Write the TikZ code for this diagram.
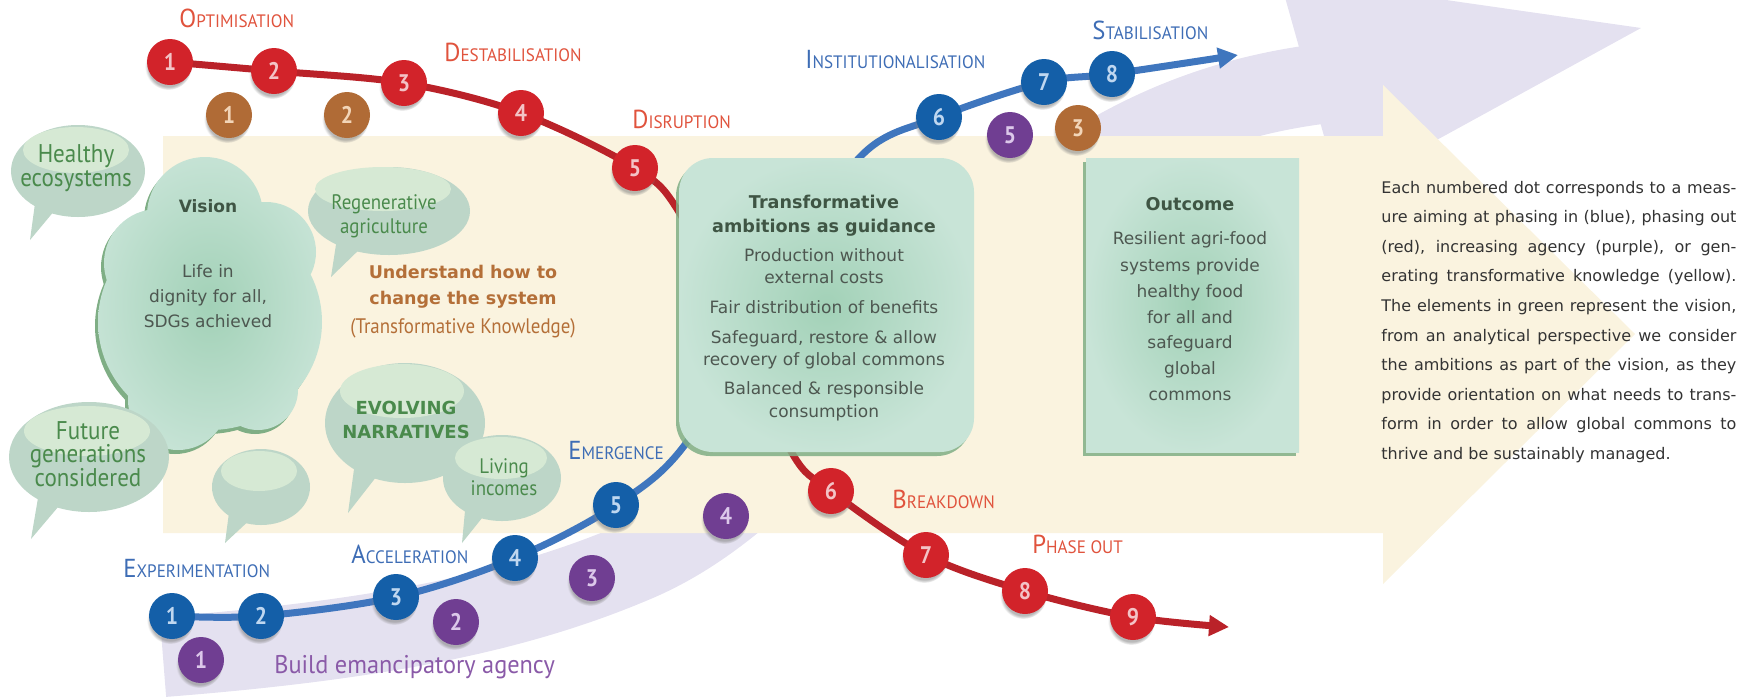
\documentclass[tikz,border=0pt]{standalone}
\usepackage{fontspec}
\setmainfont{DejaVu Sans}
\newfontfamily\cond[FakeStretch=0.9]{PT Sans}
\newfontfamily\condl[FakeStretch=0.95]{PT Sans}
\usetikzlibrary{shadows,arrows.meta}
\pgfdeclarelayer{lavl}
\pgfdeclarelayer{yell}
\pgfdeclarelayer{curvel}
\pgfsetlayers{lavl,yell,curvel,main}

\definecolor{lav}{HTML}{E4E1F0}
\definecolor{yel}{HTML}{FAF3DF}
\definecolor{dotred}{HTML}{D2232A}
\definecolor{curvered}{HTML}{BA2229}
\definecolor{dotblue}{HTML}{145FA8}
\definecolor{curveblue}{HTML}{3F76BE}
\definecolor{dotpurple}{HTML}{703E92}
\definecolor{dotorange}{HTML}{B06B36}
\definecolor{numred}{HTML}{F3C3C6}
\definecolor{numblue}{HTML}{BFD7F0}
\definecolor{numpurple}{HTML}{DCC8EA}
\definecolor{numorange}{HTML}{F2D5B8}
\definecolor{labred}{HTML}{E0533D}
\definecolor{labblue}{HTML}{3E6DB5}
\definecolor{labpurple}{HTML}{8A5AA8}
\definecolor{bub}{HTML}{BDD6C8}
\definecolor{bubhi}{HTML}{D6E9D4}
\definecolor{bubtext}{HTML}{4A8A4C}
\definecolor{boxin}{HTML}{A2D1B7}
\definecolor{boxout}{HTML}{C8E4D7}
\definecolor{boxsh}{HTML}{7FAE85}
\definecolor{ktext}{HTML}{B46F38}
\definecolor{gtext}{HTML}{4D5750}
\definecolor{gtitle}{HTML}{3F5544}
\definecolor{ptext}{HTML}{333333}

\newcommand{\slab}[2]{{\fontsize{13}{13}\selectfont #1}{\fontsize{9}{9}\selectfont #2}}
\def\cloudpath{(205,215) circle [radius=58] (158,263) circle [radius=54] (266,252) circle [radius=50] (210,322) ellipse [x radius=112, y radius=108] (178,400) circle [radius=50] (258,390) circle [radius=40]}

\tikzset{
 dot/.style={circle, minimum size=23pt, inner sep=0pt, font=\cond\bfseries\fontsize{12}{12}\selectfont,
   circular drop shadow={shadow xshift=-0.8pt, shadow yshift=-2.2pt, opacity=0.55, shadow scale=1.02}},
 rdot/.style={dot, fill=dotred, text=numred},
 bdot/.style={dot, fill=dotblue, text=numblue},
 pdot/.style={dot, fill=dotpurple, text=numpurple},
 odot/.style={dot, fill=dotorange, text=numorange},
 lab/.style={anchor=base west, inner sep=0pt, font=\condl},
 rlab/.style={lab, text=labred},
 blab/.style={lab, text=labblue},
 bubtxt/.style={anchor=base, inner sep=0pt, text=bubtext, font=\cond\fontsize{10.5}{10.5}\selectfont},
 bubbig/.style={anchor=base, inner sep=0pt, text=bubtext, font=\cond\fontsize{12.8}{12.8}\selectfont},
 bubbold/.style={anchor=base, inner sep=0pt, text=bubtext, font=\bfseries\fontsize{9}{9}\selectfont},
 boxtxt/.style={anchor=base, inner sep=0pt, text=gtext, font=\fontsize{8.5}{8.5}\selectfont},
 boxtitle/.style={anchor=base, inner sep=0pt, text=gtitle, font=\bfseries\fontsize{8.8}{8.8}\selectfont},
 ktitle/.style={anchor=base, inner sep=0pt, text=ktext, font=\bfseries\fontsize{8.75}{8.75}\selectfont},
 para/.style={anchor=base west, inner sep=0pt, text=ptext, font=\fontsize{8}{8}\selectfont},
 greenbox/.style={inner sep=0pt, shade, inner color=boxin, outer color=boxout,
   drop shadow={shadow xshift=-1.5pt, shadow yshift=-2pt, fill=boxsh, opacity=0.85}},
 curve/.style={line width=3.5pt, line join=round, line cap=round},
}

\begin{document}
\begin{tikzpicture}[x=0.5pt,y=-0.5pt]
\useasboundingbox (0,0) rectangle (1760,697);

% lavender band and arrow head
\begin{pgfonlayer}{lavl}
\draw[lav, line width=40pt] (163,657) .. controls (380,640) and (520,612) .. (640,560)
   .. controls (860,463) and (960,130) .. (1320,84);
\fill[lav] (1279,-24) -- (1641,28) -- (1340,193) -- cycle;
\end{pgfonlayer}

% yellow arrow
\begin{pgfonlayer}{yell}
\fill[yel] (163,136) -- (1383,136) -- (1383,85) -- (1635,334) -- (1383,584) -- (1383,533) -- (163,533) -- cycle;
\end{pgfonlayer}

% vision cloud
\fill[boxsh, xshift=-1.5pt, yshift=-2pt] \cloudpath;
\begin{scope}
\clip \cloudpath;
\shade[inner color=boxin, outer color=boxout] (210,305) ellipse [x radius=125, y radius=160];
\end{scope}
\node[anchor=base, inner sep=0pt, text=gtitle, font=\bfseries\fontsize{8.5}{8.5}\selectfont] (vis) at (208,212) {Vision};
\node[boxtxt] (vis1) at (208,277.5) {Life in};
\node[boxtxt] (vis2) at (208,302.5) {dignity for all,};
\node[boxtxt] (vis3) at (208,327.5) {SDGs achieved};

% speech bubbles
\fill[bub] (78,171) ellipse [x radius=67, y radius=46];
\fill[bub] (36,196) -- (30,240) -- (60,204) -- cycle;
\fill[bubhi] (76,150) ellipse [x radius=53, y radius=23];
\node[bubbig] (hb1) at (76,162) {Healthy};
\node[bubbig] (hb2) at (76,186) {ecosystems};

\fill[bub] (389,211) ellipse [x radius=81, y radius=44];
\fill[bub] (337,238) -- (331,277) -- (364,245) -- cycle;
\fill[bubhi] (383,189) ellipse [x radius=68, y radius=22];
\node[bubtxt] (rg1) at (384,209.5) {Regenerative};
\node[bubtxt] (rg2) at (384,233) {agriculture};

\fill[bub] (89,457) ellipse [x radius=80, y radius=55];
\fill[bub] (38,498) -- (31,539) -- (64,500) -- cycle;
\fill[bubhi] (87,431) ellipse [x radius=63, y radius=25];
\node[bubbig] (fg1) at (88,439) {Future};
\node[bubbig] (fg2) at (88,462.5) {generations};
\node[bubbig] (fg3) at (88,486) {considered};

\fill[bub] (261,487) ellipse [x radius=49, y radius=38];
\fill[bub] (230,505) -- (225,543) -- (255,515) -- cycle;
\fill[bubhi] (259,471) ellipse [x radius=38, y radius=20];

\fill[bub] (405,423) ellipse [x radius=80, y radius=60];
\fill[bub] (355,462) -- (348,513) -- (380,472) -- cycle;
\fill[bubhi] (402,391) ellipse [x radius=62, y radius=27];
\node[bubbold] (ev1) at (406,414.5) {EVOLVING};
\node[bubbold] (ev2) at (406,438.5) {NARRATIVES};

\fill[bub] (502,478) ellipse [x radius=59, y radius=43];
\fill[bub] (466,500) -- (462,543) -- (490,508) -- cycle;
\fill[bubhi] (501,458) ellipse [x radius=46, y radius=21];
\node[bubtxt] (li1) at (504,473) {Living};
\node[bubtxt] (li2) at (504,495) {incomes};

% transformative knowledge text
\node[ktitle] (k1) at (463,278) {Understand how to};
\node[ktitle] (k2) at (463,304) {change the system};
\node[anchor=base, inner sep=0pt, text=ktext, font=\cond\fontsize{10.5}{10.5}\selectfont] (k3) at (463,333) {(Transformative Knowledge)};

% boxes
\node[greenbox, rounded corners=17pt, minimum width=147.5pt, minimum height=147pt] (tbox) at (826.5,305) {};
\node[greenbox, minimum width=106.5pt, minimum height=147pt] (obox) at (1192.5,305) {};

\node[boxtitle] (tt1) at (824,208.5) {Transformative};
\node[boxtitle] (tt2) at (824,232) {ambitions as guidance};
\node[boxtxt] (ta1) at (824,261.5) {Production without};
\node[boxtxt] (ta2) at (824,283.5) {external costs};
\node[boxtxt] (ta3) at (824,313.5) {Fair distribution of benefits};
\node[boxtxt] (ta4) at (824,343.5) {Safeguard, restore \& allow};
\node[boxtxt] (ta5) at (824,365.5) {recovery of global commons};
\node[boxtxt] (ta6) at (824,394.5) {Balanced \& responsible};
\node[boxtxt] (ta7) at (824,417.5) {consumption};

\node[boxtitle] (ot) at (1190,210.5) {Outcome};
\node[boxtxt] (o1) at (1190,244.5) {Resilient agri-food};
\node[boxtxt] (o2) at (1190,271.5) {systems provide};
\node[boxtxt] (o3) at (1190,297.5) {healthy food};
\node[boxtxt] (o4) at (1190,323.5) {for all and};
\node[boxtxt] (o5) at (1190,348.5) {safeguard};
\node[boxtxt] (o6) at (1190,374.5) {global};
\node[boxtxt] (o7) at (1190,400.5) {commons};

% phase labels
\node[rlab] (lopt) at (179,27) {\slab{O}{PTIMISATION}};
\node[rlab] (ldes) at (444,61) {\slab{D}{ESTABILISATION}};
\node[rlab] (ldis) at (632,128) {\slab{D}{ISRUPTION}};
\node[blab] (lins) at (805,68) {\slab{I}{NSTITUTIONALISATION}};
\node[blab] (lsta) at (1092,39) {\slab{S}{TABILISATION}};
\node[blab] (lexp) at (123,577) {\slab{E}{XPERIMENTATION}};
\node[blab] (lacc) at (351,563) {\slab{A}{CCELERATION}};
\node[blab] (leme) at (568,459) {\slab{E}{MERGENCE}};
\node[rlab] (lbre) at (892,508) {\slab{B}{REAKDOWN}};
\node[rlab] (lpha) at (1032,553) {\slab{P}{HASE OUT}};
\node[lab, text=labpurple, font=\condl\fontsize{12.8}{12.8}\selectfont] (lbea) at (274,673) {Build emancipatory agency};

% dots
\node[rdot] (r1) at (170,62) {1};
\node[rdot] (r2) at (274,71) {2};
\node[rdot] (r3) at (404,83) {3};
\node[rdot] (r4) at (521,113) {4};
\node[rdot] (r5) at (635,168) {5};
\node[rdot] (r6) at (831,491) {6};
\node[rdot] (r7) at (926,555) {7};
\node[rdot] (r8) at (1025,591) {8};
\node[rdot] (r9) at (1133,617) {9};

\node[bdot] (b1) at (172,616) {1};
\node[bdot] (b2) at (261,616) {2};
\node[bdot] (b3) at (396,597) {3};
\node[bdot] (b4) at (515,558) {4};
\node[bdot] (b5) at (616,505) {5};
\node[bdot] (b6) at (939,117) {6};
\node[bdot] (b7) at (1044,82) {7};
\node[bdot] (b8) at (1112,74) {8};

\node[pdot] (p1) at (201,660) {1};
\node[pdot] (p2) at (456,622) {2};
\node[pdot] (p3) at (592,578) {3};
\node[pdot] (p4) at (726,516) {4};
\node[pdot] (p5) at (1010,135) {5};

\node[odot] (o1d) at (229,115) {1};
\node[odot] (o2d) at (347,115) {2};
\node[odot] (o3d) at (1078,128) {3};

% curves
\coordinate (rw1) at (679,212);
\coordinate (rw2) at (738,332);
\coordinate (rw3) at (792,453);
\coordinate (rend) at (1229,627);
\coordinate (bw1) at (687,442);
\coordinate (bw2) at (772,292);
\coordinate (bw3) at (860,157);
\coordinate (bend) at (1238,55);
\begin{pgfonlayer}{curvel}
\draw[curve, curvered, -{Triangle[length=10pt,width=10pt]}] plot[smooth, tension=0.55] coordinates {(r1.center) (r2.center) (r3.center) (r4.center) (r5.center) (rw1) (rw2) (rw3) (r6.center) (r7.center) (r8.center) (r9.center) (rend)};
\draw[curve, curveblue, -{Triangle[length=10pt,width=10pt]}] plot[smooth, tension=0.55] coordinates {(b1.center) (b2.center) (b3.center) (b4.center) (b5.center) (bw1) (bw2) (bw3) (b6.center) (b7.center) (b8.center) (bend)};
\end{pgfonlayer}

% explanatory paragraph
\node[para] (pl1) at (1381,193) {\makebox[177.5pt][s]{Each numbered dot corresponds to a meas-}};
\node[para] (pl2) at (1381,222.6) {\makebox[177.5pt][s]{ure aiming at phasing in (blue), phasing out}};
\node[para] (pl3) at (1381,252.2) {\makebox[177.5pt][s]{(red), increasing agency (purple), or gen-}};
\node[para] (pl4) at (1381,281.8) {\makebox[177.5pt][s]{erating transformative knowledge (yellow).}};
\node[para] (pl5) at (1381,311.4) {\makebox[177.5pt][s]{The elements in green represent the vision,}};
\node[para] (pl6) at (1381,341) {\makebox[177.5pt][s]{from an analytical perspective we consider}};
\node[para] (pl7) at (1381,370.6) {\makebox[177.5pt][s]{the ambitions as part of the vision, as they}};
\node[para] (pl8) at (1381,400.2) {\makebox[177.5pt][s]{provide orientation on what needs to trans-}};
\node[para] (pl9) at (1381,429.8) {\makebox[177.5pt][s]{form in order to allow global commons to}};
\node[para] (pl10) at (1381,459.4) {thrive and be sustainably managed.};
\end{tikzpicture}
\end{document}
